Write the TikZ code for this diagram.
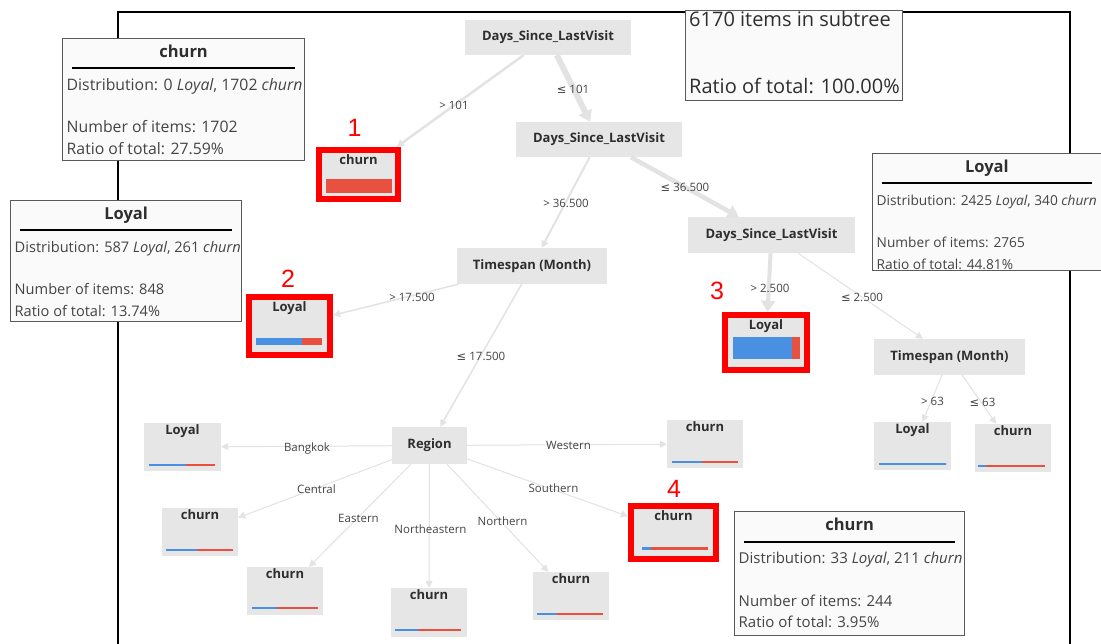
\documentclass[tikz,border=0pt]{standalone}
\usepackage{fontspec}
\setmainfont{Open Sans}
\newfontfamily\dvsans{DejaVu Sans}
\newfontfamily\numfont{Liberation Sans}
\usetikzlibrary{arrows.meta,calc,fit}

\definecolor{nodegray}{HTML}{E6E6E6}
\definecolor{edgegray}{HTML}{E3E3E3}
\definecolor{loyalblue}{HTML}{4A90E2}
\definecolor{churnred}{HTML}{E8503F}
\definecolor{txtdark}{HTML}{2E2E2E}
\definecolor{txtmid}{HTML}{444444}
\definecolor{boxfill}{HTML}{FAFAFA}
\definecolor{boxline}{HTML}{5A5A5A}
\definecolor{hlred}{HTML}{FF0000}

\tikzset{
  split/.style={fill=nodegray, inner sep=0, text=txtdark,
    font=\fontsize{13}{15}\selectfont\bfseries},
  leaf/.style={fill=nodegray, inner sep=0},
  leaflab/.style={inner sep=0, text=txtdark, text height=9, text depth=2.5,
    font=\fontsize{13}{15}\selectfont\bfseries},
  elabel/.style={inner sep=0, text=txtmid, text height=8.5, text depth=0,
    font=\fontsize{11.5}{13}\selectfont},
  edge/.style={draw=edgegray, fill=edgegray, -{Triangle[length=7pt,width=7pt]}},
  bigedge/.style={edge, -{Triangle[length=11pt,width=14pt]}},
  hl/.style={draw=hlred, line width=6, inner sep=3},
  infobox/.style={draw=boxline, fill=boxfill, line width=1.2, inner sep=0},
  infotitle/.style={inner sep=0, anchor=base, text=txtdark,
    font=\fontsize{16.5}{18}\selectfont\bfseries},
  infotext/.style={inner sep=0, anchor=base west, text=txtmid},
  inforule/.style={line width=2, draw=black},
  hlnum/.style={inner sep=0, text=hlred, font=\numfont\fontsize{25}{27}\selectfont},
}

% a leaf of the tree: grey box with its class name at the top
\newcommand{\leafnode}[5]{%
  \node[leaf, minimum width=#3, minimum height=#4] (#1) at (#2) {};
  \node[leaflab] (#1-t) at ($(#1.north)+(0,8.5)$) {#5};}

% class distribution bar: left x, end of blue part, right x, top y, bottom y
\newcommand{\distbar}[5]{%
  \fill[loyalblue] (#1,#4) rectangle (#2,#5);
  \fill[churnred] (#2,#4) rectangle (#3,#5);}

% tooltip panel: name, north-west corner, width, height, text size,
% title, distribution line, count line, ratio line
\newcommand{\infopanel}[9]{%
  \node[infobox, minimum width=#3, minimum height=#4, anchor=north west] (#1) at (#2) {};
  \node[infotitle] (#1-title) at ($(#1.north)+(0,19.5)$) {#6};
  \draw[inforule] ($(#1.north west)+(10,30.5)$) -- ($(#1.north east)+(-10,30.5)$);
  \node[infotext, font=\fontsize{#5}{#5}\selectfont] (#1-d) at ($(#1.north west)+(4.5,52.5)$) {#7};
  \node[infotext, font=\fontsize{#5}{#5}\selectfont] (#1-n) at ($(#1.north west)+(4.5,95)$) {#8};
  \node[infotext, font=\fontsize{#5}{#5}\selectfont] (#1-r) at ($(#1.north west)+(4.5,116.5)$) {#9};}

\newcommand{\lesym}{{\dvsans ≤}}

\begin{document}
\begin{tikzpicture}[x=1pt,y=-1pt]
\useasboundingbox (0,0) rectangle (1101,644);
\fill[white] (0,0) rectangle (1101,644);

% outer frame
\draw[line width=2] (118,644) -- (118,12) -- (1070,12) -- (1070,644);

% split nodes
\node[split, minimum width=166, minimum height=35] (root)   at (548,37.5)  {Days\_Since\_LastVisit};
\node[split, minimum width=166, minimum height=35] (n2)     at (599,139.5) {Days\_Since\_LastVisit};
\node[split, minimum width=167, minimum height=36] (n3)     at (771.5,235) {Days\_Since\_LastVisit};
\node[split, minimum width=150, minimum height=36] (t1)     at (532,266)   {Timespan (Month)};
\node[split, minimum width=151, minimum height=36] (t2)     at (949.5,357) {Timespan (Month)};
\node[split, minimum width=75,  minimum height=37] (region) at (429.5,445.5) {Region};

% leaves
\leafnode{l1}{358.5,174.5}{73}{43}{churn}
\leafnode{l2}{289.5,326}{75}{52}{Loyal}
\leafnode{l3}{766,342.5}{76}{49}{Loyal}
\leafnode{l4}{673.5,532.5}{79}{47}{churn}
\leafnode{bk}{182.5,447}{77}{48}{Loyal}
\leafnode{ce}{200,532}{76}{48}{churn}
\leafnode{ea}{285,591}{76}{48}{churn}
\leafnode{ne}{429,612.5}{76}{49}{churn}
\leafnode{no}{571,596}{76}{48}{churn}
\leafnode{we}{705,444}{76}{48}{churn}
\leafnode{g63}{912.5,446}{77}{48}{Loyal}
\leafnode{l63}{1013,448}{76}{48}{churn}

% distribution bars
\distbar{326}{326}{392}{179}{193}
\distbar{256}{302}{322}{338}{345}
\distbar{733}{792}{800}{337}{359}
\distbar{642}{651}{708}{546.5}{549.5}
\distbar{149}{186}{215}{464}{466}
\distbar{166}{197}{233}{549}{551}
\distbar{252}{277}{318}{607}{609}
\distbar{395}{418}{461}{629}{631}
\distbar{537}{557}{603}{613}{615}
\distbar{672}{702}{738}{461}{463}
\distbar{879}{946}{946}{463}{465}
\distbar{978}{986}{1045}{465}{467}

% highlighted leaves
\node[hl, fit=(l1)] (h1) {};
\node[hl, fit=(l2)] (h2) {};
\node[hl, fit=(l3)] (h3) {};
\node[hl, fit=(l4)] (h4) {};
\node[hlnum] (k1) at (354.5,128) {1};
\node[hlnum] (k2) at (288,279) {2};
\node[hlnum] (k3) at (717,290.5) {3};
\node[hlnum] (k4) at (674,489) {4};

% connectors
\draw[edge, line width=2.5] (root) -- (h1);
\draw[bigedge, line width=6] (root) -- (n2);
\draw[edge, line width=2] (n2) -- (t1);
\draw[bigedge, line width=4.5] (n2) -- (n3);
\draw[edge, line width=1.5] (t1) -- (h2);
\draw[edge, line width=1.5] (t1) -- (region);
\draw[bigedge, line width=4] (n3) -- (h3);
\draw[edge, line width=1] (n3) -- (t2);
\draw[edge, line width=1] (t2) -- (g63);
\draw[edge, line width=1] (t2) -- (l63);
\draw[edge, line width=1] (region) -- (bk);
\draw[edge, line width=1] (region) -- (ce);
\draw[edge, line width=1] (region) -- (ea);
\draw[edge, line width=1] (region) -- (ne);
\draw[edge, line width=1] (region) -- (no);
\draw[edge, line width=1] (region) -- (h4);
\draw[edge, line width=1] (region) -- (we);

% connector labels
\node[elabel] (e1)  at (454,105)   {> 101};
\node[elabel] (e2)  at (573,89)    {\lesym{} 101};
\node[elabel] (e3)  at (566,203)   {> 36.500};
\node[elabel] (e4)  at (685,187)   {\lesym{} 36.500};
\node[elabel] (e5)  at (412,297)   {> 17.500};
\node[elabel] (e6)  at (481,356)   {\lesym{} 17.500};
\node[elabel] (e7)  at (770,288)   {> 2.500};
\node[elabel] (e8)  at (862,297)   {\lesym{} 2.500};
\node[elabel] (e9)  at (932.5,401) {> 63};
\node[elabel] (e10) at (982.5,402) {\lesym{} 63};
\node[elabel] (e11) at (307,447)   {Bangkok};
\node[elabel] (e12) at (316.5,489) {Central};
\node[elabel] (e13) at (358.5,518) {Eastern};
\node[elabel] (e14) at (430.5,529) {Northeastern};
\node[elabel] (e15) at (502.5,521) {Northern};
\node[elabel] (e16) at (568.5,445) {Western};
\node[elabel] (e17) at (553.5,488) {Southern};

% tooltip panels
\infopanel{pa}{62,38}{242}{122}{15.8}{churn}
  {Distribution: 0 \textit{Loyal}, 1702 \textit{churn}}{Number of items: 1702}{Ratio of total: 27.59\%}
\infopanel{pb}{10,200}{231}{121}{14.6}{Loyal}
  {Distribution: 587 \textit{Loyal}, 261 \textit{churn}}{Number of items: 848}{Ratio of total: 13.74\%}
\infopanel{pc}{872,153}{228.5}{117}{13.7}{Loyal}
  {Distribution: 2425 \textit{Loyal}, 340 \textit{churn}}{Number of items: 2765}{Ratio of total: 44.81\%}
\infopanel{pd}{734,511}{230}{124}{15}{churn}
  {Distribution: 33 \textit{Loyal}, 211 \textit{churn}}{Number of items: 244}{Ratio of total: 3.95\%}

% subtree summary
\node[infobox, minimum width=217, minimum height=90, anchor=north west] (pe) at (685,10) {};
\node[infotext, text=txtdark, font=\fontsize{20}{22}\selectfont] (pe-1) at ($(pe.north west)+(4,17)$) {6170 items in subtree};
\node[infotext, text=txtdark, font=\fontsize{20}{22}\selectfont] (pe-2) at ($(pe.north west)+(4,84)$) {Ratio of total: 100.00\%};
\end{tikzpicture}
\end{document}
